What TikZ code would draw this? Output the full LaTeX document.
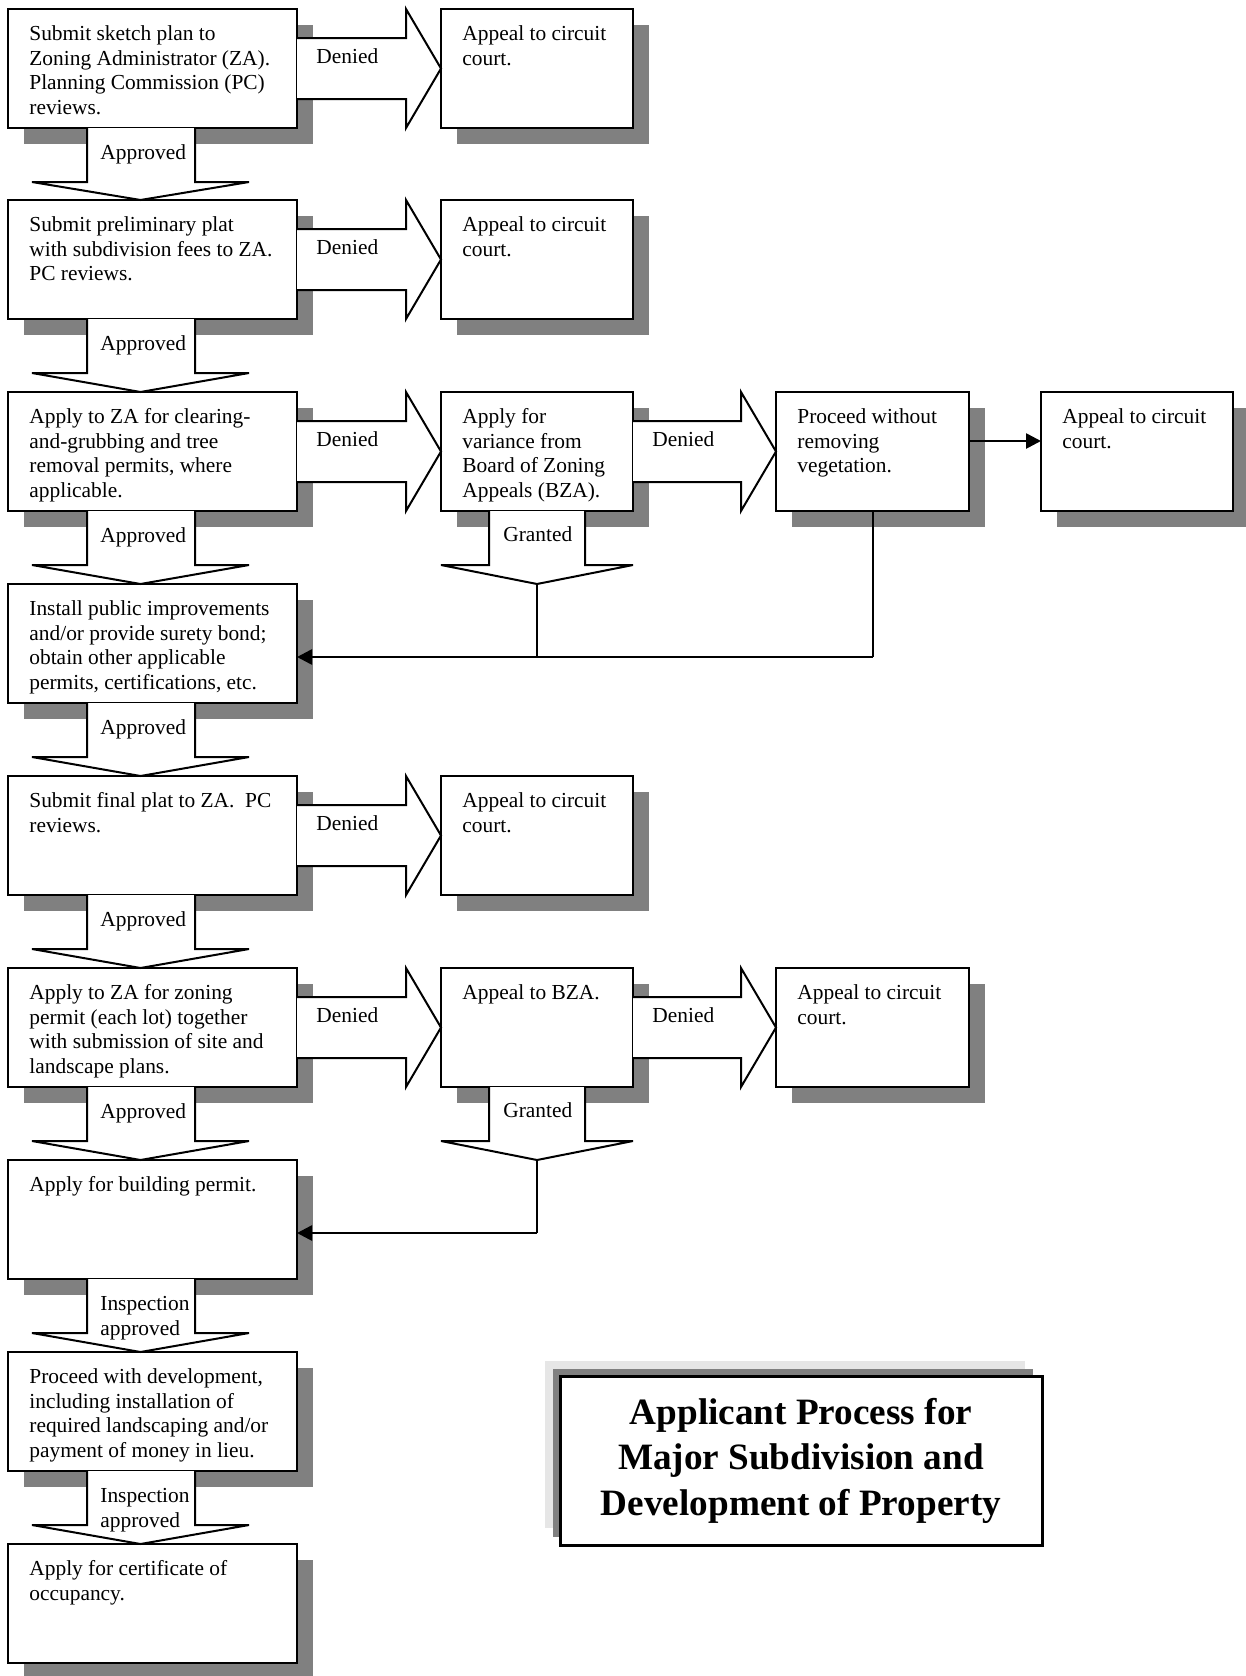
\documentclass[tikz,border=0pt]{standalone}
\usepackage{fontspec}
\setmainfont{Liberation Serif}
\usetikzlibrary{arrows.meta}
\definecolor{shadowgray}{HTML}{808080}
\definecolor{paleshadow}{HTML}{E6E6E6}
\tikzset{
  boxstyle/.style={draw=black, line width=1pt, fill=white, inner sep=0pt, outer sep=0pt, anchor=north west},
  shadowstyle/.style={fill=shadowgray},
  txt/.style={font=\fontsize{10.7}{12.35}\selectfont, align=left, inner sep=0pt, anchor=north west},
  blockarrow/.style={draw=black, fill=white, line width=1pt, line join=miter},
  link/.style={draw=black, line width=0.8pt},
  linkarrow/.style={draw=black, line width=1.3pt, -{Triangle[length=7.5pt,width=7.5pt]}},
}
% name, left, top, width, text
\newcommand{\procbox}[5]{%
  \fill[shadowstyle] (#2+16,#3+16) rectangle (#2+#4+16,#3+135);
  \node[boxstyle, minimum width=#4*0.5pt, minimum height=59.5pt] (#1) at (#2,#3) {};
  \node[txt] (#1-text) at (#2+21,#3+13.7) {\strut #5};
}
% name, x start, x tip, box top
\newcommand{\denyarrow}[4]{%
  \filldraw[blockarrow] (#2,#4+29) -- (#3-35,#4+29) -- (#3-35,#4) -- (#3,#4+59.5)
     -- (#3-35,#4+119) -- (#3-35,#4+90) -- (#2,#4+90);
  \node[txt] (#1) at (#2+19,#4+36.7) {\strut Denied};
}
% name, box bottom, next top, label
\newcommand{\apparrow}[4]{%
  \filldraw[blockarrow] (87,#2) -- (87,#2+54) -- (32,#2+54) -- (140.5,#3)
     -- (249,#2+54) -- (195,#2+54) -- (195,#2);
  \node[txt] (#1) at (100,#2+13.7) {\strut #4};
}
% name, box bottom, next top
\newcommand{\grantarrow}[3]{%
  \filldraw[blockarrow] (489,#2) -- (489,#2+54) -- (441,#2+54) -- (537,#3)
     -- (633,#2+54) -- (585,#2+54) -- (585,#2);
  \node[txt] (#1) at (503,#2+12.7) {\strut Granted};
  \coordinate (#1-tip) at (537,#3);
}
\begin{document}
\begin{tikzpicture}[x=0.5pt,y=-0.5pt]
\useasboundingbox (0,0) rectangle (1246,1676);

% ---- boxes
\procbox{r1c1}{8}{9}{289}{Submit sketch plan to\\Zoning Administrator (ZA).\\Planning Commission (PC)\\reviews.}
\procbox{r1c2}{441}{9}{192}{Appeal to circuit\\court.}
\procbox{r2c1}{8}{200}{289}{Submit preliminary plat\\with subdivision fees to ZA.\\PC reviews.}
\procbox{r2c2}{441}{200}{192}{Appeal to circuit\\court.}
\procbox{r3c1}{8}{392}{289}{Apply to ZA for clearing-\\and-grubbing and tree\\removal permits, where\\applicable.}
\procbox{r3c2}{441}{392}{192}{Apply for\\variance from\\Board of Zoning\\Appeals (BZA).}
\procbox{r3c3}{776}{392}{193}{Proceed without\\removing\\vegetation.}
\procbox{r3c4}{1041}{392}{192}{Appeal to circuit\\court.}
\procbox{r4c1}{8}{584}{289}{Install public improvements\\and/or provide surety bond;\\obtain other applicable\\permits, certifications, etc.}
\procbox{r5c1}{8}{776}{289}{Submit final plat to ZA.\ \ PC\\reviews.}
\procbox{r5c2}{441}{776}{192}{Appeal to circuit\\court.}
\procbox{r6c1}{8}{968}{289}{Apply to ZA for zoning\\permit (each lot) together\\with submission of site and\\landscape plans.}
\procbox{r6c2}{441}{968}{192}{Appeal to BZA.}
\procbox{r6c3}{776}{968}{193}{Appeal to circuit\\court.}
\procbox{r7c1}{8}{1160}{289}{Apply for building permit.}
\procbox{r8c1}{8}{1352}{289}{Proceed with development,\\including installation of\\required landscaping and/or\\payment of money in lieu.}
\procbox{r9c1}{8}{1544}{289}{Apply for certificate of\\occupancy.}

% ---- denied arrows
\denyarrow{d1}{297}{441}{9}
\denyarrow{d2}{297}{441}{200}
\denyarrow{d3}{297}{441}{392}
\denyarrow{d4}{633}{776}{392}
\denyarrow{d5}{297}{441}{776}
\denyarrow{d6}{297}{441}{968}
\denyarrow{d7}{633}{776}{968}

% ---- approved arrows
\apparrow{a1}{128}{200}{Approved}
\apparrow{a2}{319}{392}{Approved}
\apparrow{a3}{511}{584}{Approved}
\apparrow{a4}{703}{776}{Approved}
\apparrow{a5}{895}{968}{Approved}
\apparrow{a6}{1087}{1160}{Approved}
\apparrow{a7}{1279}{1352}{Inspection\\approved}
\apparrow{a8}{1471}{1544}{Inspection\\approved}

% ---- granted arrows
\grantarrow{g1}{511}{584}
\grantarrow{g2}{1087}{1160}

% ---- connectors
\coordinate (j1) at (537,657);
\coordinate (j2) at (873,657);
\draw[link] (g1-tip) -- (j1);
\draw[link] (r3c3.south -| j2) -- (j2);
\draw[linkarrow] (j2) -- (r4c1.east |- j1);

\coordinate (j3) at (537,1233);
\draw[link] (g2-tip) -- (j3);
\draw[linkarrow] (j3) -- (r7c1.east |- j3);

\coordinate (ya) at (0,441);
\draw[linkarrow] (r3c3.east |- ya) -- (r3c4.west |- ya);

% ---- title
\fill[paleshadow] (545,1361) rectangle (1025,1528);
\fill[shadowgray] (553,1369) rectangle (1033,1537);
\node[draw=black, line width=1.5pt, fill=white, inner sep=0pt, outer sep=0pt,
      minimum width=241pt, minimum height=84.5pt, anchor=north west] (title) at (560,1376) {};
\node[font=\bfseries\fontsize{18.6}{22.75}\selectfont, align=center, inner sep=0pt] (titletext)
  at (title.center) {Applicant Process for\\Major Subdivision and\\Development of Property};
\end{tikzpicture}
\end{document}
